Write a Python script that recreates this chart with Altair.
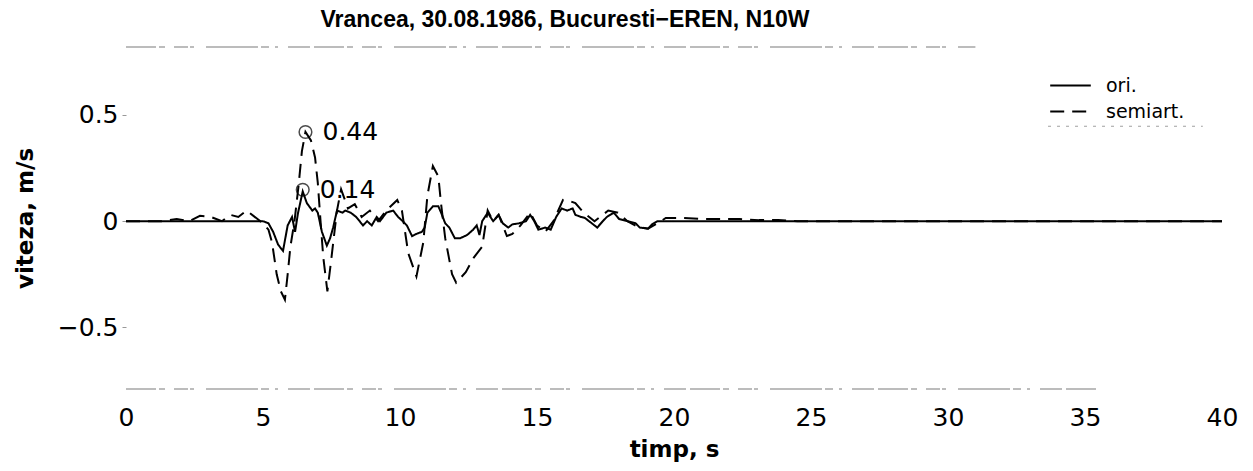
import altair as alt
import pandas as pd

# ---- data ----
t_ori = [0, 5.0, 5.2, 5.37, 5.55, 5.73, 5.9, 6.06, 6.17, 6.28, 6.45, 6.6, 6.8, 6.9, 7.0, 7.15, 7.33,
         7.45, 7.56, 7.7, 7.9, 8.0, 8.2, 8.4, 8.65, 8.8, 8.97, 9.15, 9.27, 9.5, 9.75, 9.93, 10.1, 10.25,
         10.44, 10.6, 10.8, 10.9, 11.0, 11.2, 11.4, 11.5, 11.65, 11.8, 12.0, 12.2, 12.45, 12.67, 12.8,
         12.9, 13.0, 13.2, 13.4, 13.6, 13.75, 13.95, 14.1, 14.35, 14.6, 14.75, 14.9, 15.05, 15.3, 15.5,
         15.6, 15.7, 15.9, 16.1, 16.3, 16.4, 16.6, 16.75, 16.9, 17.2, 17.4, 17.55, 17.8, 18.0, 18.3,
         18.6, 18.75, 19.05, 19.2, 19.4, 20, 40]
v_ori = [0, 0, -0.01, -0.05, -0.11, -0.14, -0.02, 0.02, -0.05, 0.04, 0.14, 0.085, 0.05, 0.06, 0.04,
         -0.05, -0.115, -0.08, -0.03, 0.05, 0.04, 0.05, 0.04, 0.02, -0.02, 0.0, -0.02, 0.02, 0.0, 0.04,
         0.05, 0.02, 0.0, -0.02, -0.07, -0.06, -0.05, -0.03, 0.04, 0.07, 0.07, 0.04, -0.01, -0.03,
         -0.08, -0.08, -0.065, -0.04, -0.02, -0.065, 0.0, 0.04, 0.0, 0.03, -0.01, -0.03, -0.015, -0.01,
         0.0, 0.03, 0.0, -0.04, -0.03, -0.04, -0.01, 0.02, 0.06, 0.05, 0.06, 0.03, 0.02, 0.015, 0.0,
         -0.03, 0.0, 0.02, 0.04, 0.01, 0.0, -0.01, -0.03, -0.035, -0.015, 0.0, 0, 0]

t_semi = [0, 1.3, 1.85, 2.3, 2.7, 3.1, 3.5, 3.8, 4.1, 4.4, 4.8, 5.0, 5.2, 5.33, 5.5, 5.65, 5.8, 5.9,
          6.0, 6.15, 6.3, 6.42, 6.55, 6.75, 6.9, 7.0, 7.1, 7.2, 7.35, 7.5, 7.7, 7.85, 8.1, 8.35, 8.6,
          8.9, 9.2, 9.5, 9.9, 10.07, 10.3, 10.6, 10.85, 11.0, 11.2, 11.4, 11.5, 11.65, 11.9, 12.05,
          12.4, 12.7, 13.0, 13.2, 13.4, 13.6, 13.9, 14.1, 14.4, 14.75, 15.0, 15.3, 15.6, 15.95, 16.2,
          16.4, 16.7, 17.1, 17.6, 17.95, 18.3, 18.65, 19.05, 19.4, 19.7, 20.3, 21.1, 21.8, 22.4, 23.1,
          23.8, 24.5, 40]
v_semi = [0, 0.0, 0.01, 0.0, 0.025, 0.02, 0.0, 0.03, 0.02, 0.05, 0.01, -0.01, -0.04, -0.1, -0.25,
          -0.33, -0.37, -0.25, -0.12, 0.0, 0.17, 0.33, 0.42, 0.38, 0.3, 0.18, 0.0, -0.17, -0.33, -0.17,
          0.05, 0.15, 0.06, 0.08, 0.02, 0.05, 0.0, 0.05, 0.1, 0.05, -0.15, -0.26, -0.1, 0.12, 0.26,
          0.21, 0.08, -0.08, -0.25, -0.29, -0.24, -0.17, -0.12, 0.05, 0.0, 0.03, -0.07, -0.06, -0.02,
          0.04, -0.02, -0.05, 0.0, 0.1, 0.095, 0.085, 0.04, 0.0, 0.05, 0.04, 0.0, -0.025, -0.035,
          -0.01, 0.015, 0.015, 0.01, 0.01, 0.01, 0.005, 0.005, 0, 0]

series_names = ["ori.", "semiart."]
peak_t = [6.45, 6.55]
peak_v = [0.148, 0.42]
peak_labels = ["0.14", "0.44"]

x_ticks = [0, 5, 10, 15, 20, 25, 30, 35, 40]
y_ticks = [-0.5, 0, 0.5]
x_dom = [0, 40]
y_dom = [-0.79, 0.82]

# frame remnants (scanned, broken box edges)
frame_t = [0, 31, 0, 35.5]
frame_v = [0.82, 0.82, -0.79, -0.79]
frame_id = ["top", "top", "bottom", "bottom"]
legbox_t = [33.65, 39.3]
legbox_v = [0.447, 0.447]

# ---- tables ----
df = pd.concat([
    pd.DataFrame({"t": t_ori, "v": v_ori, "s": series_names[0]}),
    pd.DataFrame({"t": t_semi, "v": v_semi, "s": series_names[1]}),
])
df_peaks = pd.DataFrame({"t": peak_t, "v": peak_v, "lab": peak_labels})
df_frame = pd.DataFrame({"t": frame_t, "v": frame_v, "id": frame_id})
df_legbox = pd.DataFrame({"t": legbox_t, "v": legbox_v})

FONT = "DejaVu Sans"

xs = alt.Scale(domain=x_dom, nice=False, zero=False)
ys = alt.Scale(domain=y_dom, nice=False, zero=False)

dash_scale = alt.Scale(domain=series_names, range=[[1, 0], [14, 8]])

x_enc = alt.X("t:Q", scale=xs, axis=alt.Axis(
    values=x_ticks, title="timp, s", grid=False, domain=False, ticks=False,
    labelPadding=16, labelFont=FONT, labelFontSize=25, labelColor="black",
    titleFont=FONT, titleFontSize=23, titleFontWeight="bold", titleColor="black",
    titlePadding=8, labelFlush=False))
y_enc = alt.Y("v:Q", scale=ys, axis=alt.Axis(
    values=y_ticks, title="viteza, m/s", grid=False, domain=False, ticks=True,
    tickSize=4, tickColor="#999999", labelPadding=4,
    labelExpr="datum.value == 0 ? '0' : replace(format(datum.value, '.1f'), '-', '\u2212')",
    labelFont=FONT, labelFontSize=25, labelColor="black",
    titleFont=FONT, titleFontSize=23, titleFontWeight="bold", titleColor="black",
    titlePadding=20))

legend = alt.Legend(
    title=None, orient="none", legendX=929, legendY=23, padding=0,
    symbolType="M-1.4,0H1.4", symbolSize=841, symbolStrokeColor="black",
    symbolStrokeWidth=2, labelFont=FONT, labelFontSize=19, labelColor="black",
    labelOffset=20, rowPadding=0)

frame = alt.Chart(df_frame).mark_line(
    color="#7a7a7a", strokeWidth=1.1,
    strokeDash=[30, 3, 6, 9, 14, 2, 4, 12, 52, 3, 8, 6, 3, 10, 22, 4]
).encode(x=alt.X("t:Q", scale=xs), y=alt.Y("v:Q", scale=ys), detail="id:N")

legbox = alt.Chart(df_legbox).mark_line(
    color="#a0a0a0", strokeWidth=1.2, strokeDash=[3, 6]
).encode(x=alt.X("t:Q", scale=xs), y=alt.Y("v:Q", scale=ys))

semi = alt.Chart(df[df.s == series_names[1]]).mark_line(
    color="black", strokeWidth=2
).encode(x=x_enc, y=y_enc,
         strokeDash=alt.StrokeDash("s:N", scale=dash_scale, legend=legend))

ori = alt.Chart(df[df.s == series_names[0]]).mark_line(
    color="black", strokeWidth=2
).encode(x=alt.X("t:Q", scale=xs), y=alt.Y("v:Q", scale=ys),
         strokeDash=alt.StrokeDash("s:N", scale=dash_scale, legend=legend))

circles = alt.Chart(df_peaks).mark_point(
    shape="circle", filled=False, size=160, color="black", strokeWidth=1.5
).encode(x=alt.X("t:Q", scale=xs), y=alt.Y("v:Q", scale=ys))

labels = alt.Chart(df_peaks).mark_text(
    align="left", baseline="middle", dx=17, font=FONT, fontSize=25, color="black"
).encode(x=alt.X("t:Q", scale=xs), y=alt.Y("v:Q", scale=ys), text="lab:N")

chart = alt.layer(frame, legbox, semi, ori, circles, labels).properties(
    width=1096, height=342,
    background="white",
    title=alt.TitleParams(
        "Vrancea, 30.08.1986, Bucuresti\u2212EREN, N10W",
        anchor="middle", dx=-109, font="Liberation Sans", fontSize=23,
        fontWeight="bold", color="black", offset=13),
    autosize=alt.AutoSizeParams(type="none"),
    padding={"left": 126, "top": 47, "right": 31, "bottom": 82},
).configure_view(strokeWidth=0, stroke=None)

chart.save("out.html", embed_options={"renderer": "svg", "actions": False})
